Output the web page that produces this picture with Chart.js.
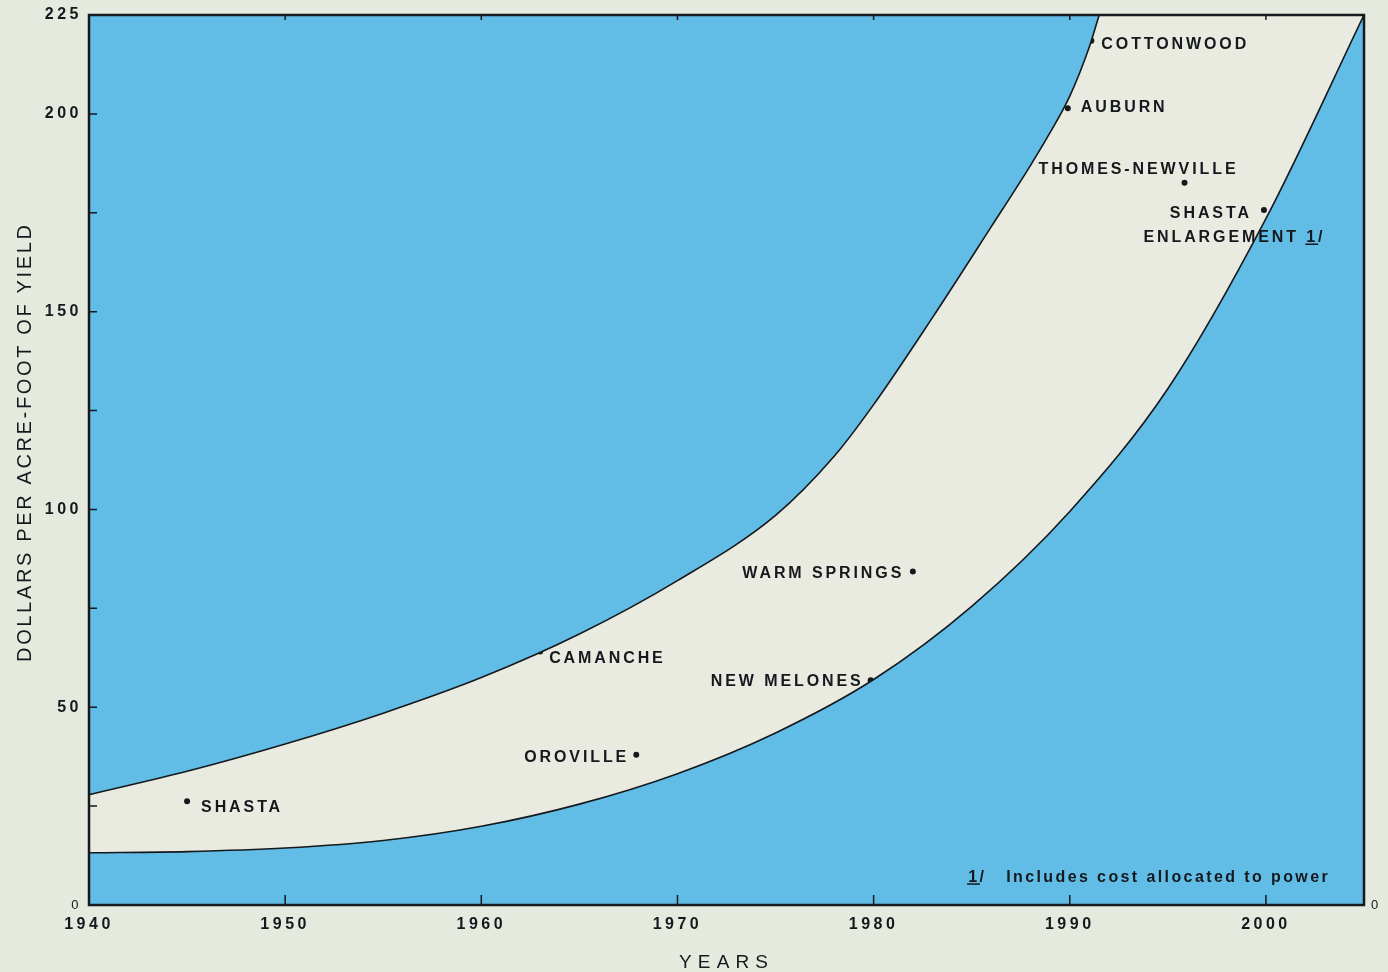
<!DOCTYPE html>
<html>
<head>
<meta charset="utf-8">
<title>Dollars per acre-foot of yield</title>
<script src="https://cdn.jsdelivr.net/npm/chart.js@4/dist/chart.umd.min.js"></script>
<style>
  html, body { margin: 0; padding: 0; background: #e6e9de; }
  #wrap { width: 1388px; height: 972px; }
  canvas { display: block; }
</style>
</head>
<body>
<div id="wrap"><canvas id="costChart" width="1388" height="972"></canvas></div>
<script>
// Upper and lower bounds of the cost band (years, dollars per acre-foot)
const upperYears = [1940, 1945, 1950, 1955, 1960, 1965, 1970, 1975, 1978, 1980, 1983, 1986, 1988, 1989, 1990, 1991, 1991.5];
const upperCost = [27.9, 33.8, 40.7, 48.5, 57.5, 68.5, 82, 98.5, 113.5, 126.5, 148.5, 171.5, 187, 195.3, 204.5, 217, 225];
const lowerYears = [1940, 1945, 1950, 1955, 1960, 1965, 1970, 1975, 1980, 1985, 1990, 1995, 2000, 2005];
const lowerCost = [13.2, 13.5, 14.4, 16.3, 19.9, 25.5, 33.2, 43.5, 57, 75.5, 99.5, 130.5, 173.5, 225];

// Individual projects
const projects = ['SHASTA', 'CAMANCHE', 'OROVILLE', 'NEW MELONES', 'WARM SPRINGS', 'COTTONWOOD', 'AUBURN', 'THOMES-NEWVILLE', 'SHASTA ENLARGEMENT'];
const projectYears = [1945.0, 1963.0, 1967.9, 1979.85, 1982.0, 1991.1, 1989.9, 1995.85, 1999.9];
const projectCosts = [26.2, 64.1, 38.0, 56.8, 84.3, 218.5, 201.4, 182.6, 175.7];

// Axis ticks
const xTickYears = [1940, 1950, 1960, 1970, 1980, 1990, 2000];
const yTickLabels = [0, 50, 100, 150, 200, 225];
const yTickMarks = [25, 50, 75, 100, 125, 150, 175, 200];

const xTitle = 'YEARS';
const yTitle = 'DOLLARS PER ACRE-FOOT OF YIELD';
const footnote = 'Includes cost allocated to power';

const BLUE = '#62bde6';
const BAND = '#e9ebe0';
const INK = '#15181c';
const FAMILY = '"Liberation Sans", Arial, Helvetica, sans-serif';

// where each project's text sits relative to its dot
const labelPlacement = {
  'SHASTA': [{ text: 'SHASTA', dx: 14, dy: 4.6, align: 'left' }],
  'CAMANCHE': [{ text: 'CAMANCHE', dx: 9, dy: 5.5, align: 'left' }],
  'OROVILLE': [{ text: 'OROVILLE', dx: -10, dy: 2, align: 'right' }],
  'NEW MELONES': [{ text: 'NEW MELONES', dx: -10, dy: 0, align: 'right' }],
  'WARM SPRINGS': [{ text: 'WARM SPRINGS', dx: -11.5, dy: 1, align: 'right' }],
  'COTTONWOOD': [{ text: 'COTTONWOOD', dx: 10, dy: 3, align: 'left' }],
  'AUBURN': [{ text: 'AUBURN', dx: 13, dy: -2.5, align: 'left' }],
  'THOMES-NEWVILLE': [{ text: 'THOMES-NEWVILLE', dx: -146, dy: -14, align: 'left' }],
  'SHASTA ENLARGEMENT': [
    { text: 'SHASTA', dx: -15, dy: 2, align: 'right' },
    { text: 'ENLARGEMENT 1/', dx: -120.5, dy: 26, align: 'left', mark: 'ENLARGEMENT ' }
  ]
};

// draws text with letter spacing, positioned by its visible width
function spacedText(ctx, text, x, y, align, spacing) {
  ctx.letterSpacing = spacing + 'px';
  ctx.textAlign = 'left';
  const w = ctx.measureText(text).width - spacing;
  let start = x;
  if (align === 'right') start = x - w;
  else if (align === 'center') start = x - w / 2;
  ctx.fillText(text, start, y);
  return start;
}

// underline under the footnote "1"
function underlineOne(ctx, startX, before, baseline, spacing) {
  ctx.letterSpacing = spacing + 'px';
  const x0 = before ? startX + ctx.measureText(before).width : startX;
  const w = ctx.measureText('1').width - spacing;
  ctx.save();
  ctx.strokeStyle = INK;
  ctx.lineWidth = 1.5;
  ctx.beginPath();
  ctx.moveTo(x0 - 1, baseline + 2.5);
  ctx.lineTo(x0 + w + 3, baseline + 2.5);
  ctx.stroke();
  ctx.restore();
}

const plotBackground = {
  id: 'plotBackground',
  beforeDraw(chart) {
    const { ctx, chartArea: a } = chart;
    ctx.letterSpacing = '3.5px';
    ctx.save();
    ctx.fillStyle = BAND;
    ctx.fillRect(a.left, a.top, a.right - a.left, a.bottom - a.top);
    ctx.restore();
  }
};

const frameAndTicks = {
  id: 'frameAndTicks',
  afterDatasetsDraw(chart) {
    const { ctx, chartArea: a, scales } = chart;
    ctx.save();
    ctx.strokeStyle = INK;
    ctx.lineWidth = 1.5;
    ctx.beginPath();
    xTickYears.slice(1).forEach(year => {
      const px = scales.x.getPixelForValue(year);
      ctx.moveTo(px, a.bottom);
      ctx.lineTo(px, a.bottom - 10);
      ctx.moveTo(px, a.top);
      ctx.lineTo(px, a.top + 5);
    });
    yTickMarks.forEach(v => {
      const py = scales.y.getPixelForValue(v);
      ctx.moveTo(a.left, py);
      ctx.lineTo(a.left + 8, py);
    });
    ctx.stroke();
    ctx.lineWidth = 2.5;
    ctx.strokeRect(a.left, a.top, a.right - a.left, a.bottom - a.top);
    ctx.restore();
  }
};

const projectLabels = {
  id: 'projectLabels',
  afterDatasetsDraw(chart) {
    const { ctx, chartArea: a } = chart;
    const meta = chart.getDatasetMeta(2);
    const capHalf = 16 * 0.716 / 2;
    ctx.save();
    ctx.fillStyle = INK;
    ctx.font = 'bold 16px ' + FAMILY;
    ctx.textBaseline = 'alphabetic';
    projects.forEach((name, i) => {
      const pt = meta.data[i];
      (labelPlacement[name] || []).forEach(line => {
        const baseline = pt.y + line.dy + capHalf;
        const start = spacedText(ctx, line.text, pt.x + line.dx, baseline, line.align, 2.9);
        if (line.mark) underlineOne(ctx, start, line.mark, baseline, 2.9);
      });
    });

    // footnote in the lower right corner
    const fy = a.bottom - 29.2 + capHalf;
    const fStart = spacedText(ctx, footnote, a.right - 36.3, fy, 'right', 2.4);
    const oneStart = spacedText(ctx, '1/', fStart - 38, fy, 'left', 2.4);
    underlineOne(ctx, oneStart, '', fy, 2.4);

    // axis titles
    ctx.font = '19px ' + FAMILY;
    spacedText(ctx, xTitle, 723.5, 961 + 19 * 0.716 / 2, 'center', 6.1);
    ctx.translate(24, 443.5);
    ctx.rotate(-Math.PI / 2);
    ctx.font = '20px ' + FAMILY;
    spacedText(ctx, yTitle, 0, 20 * 0.716 / 2, 'center', 2.65);
    ctx.restore();
  }
};

function tickFont(ctx) {
  if (ctx.tick && ctx.tick.value === 0) return { family: FAMILY, size: 13, weight: 'normal' };
  return { family: FAMILY, size: 16, weight: 'bold' };
}

const toPoints = (xs, ys) => xs.map((x, i) => ({ x, y: ys[i] }));

new Chart(document.getElementById('costChart'), {
  type: 'line',
  data: {
    datasets: [
      {
        label: 'Upper bound',
        data: toPoints(upperYears, upperCost),
        borderColor: INK,
        borderWidth: 1.6,
        backgroundColor: BLUE,
        fill: 'end',
        pointRadius: 0,
        cubicInterpolationMode: 'monotone'
      },
      {
        label: 'Lower bound',
        data: toPoints(lowerYears, lowerCost),
        borderColor: INK,
        borderWidth: 1.6,
        backgroundColor: BLUE,
        fill: 'origin',
        pointRadius: 0,
        cubicInterpolationMode: 'monotone'
      },
      {
        label: 'Projects',
        data: toPoints(projectYears, projectCosts),
        showLine: false,
        pointRadius: 3,
        pointBorderWidth: 0,
        pointBackgroundColor: INK,
        fill: false
      }
    ]
  },
  options: {
    responsive: false,
    animation: false,
    devicePixelRatio: 1,
    layout: { padding: { top: 15, right: 0, bottom: 0, left: 0 } },
    plugins: {
      legend: { display: false },
      tooltip: { enabled: false }
    },
    scales: {
      x: {
        type: 'linear',
        min: 1940,
        max: 2005,
        grid: { display: false },
        border: { display: false },
        afterBuildTicks: scale => { scale.ticks = xTickYears.map(v => ({ value: v })); },
        afterFit: scale => { scale.height = 67; },
        ticks: {
          color: INK,
          padding: 2,
          autoSkip: false,
          maxRotation: 0,
          font: tickFont,
          callback: v => String(v)
        }
      },
      y: {
        min: 0,
        max: 225,
        grid: { display: false },
        border: { display: false },
        afterBuildTicks: scale => { scale.ticks = yTickLabels.map(v => ({ value: v })); },
        afterFit: scale => { scale.width = 89; },
        ticks: {
          color: INK,
          padding: -1,
          autoSkip: false,
          font: tickFont,
          callback: v => String(v)
        }
      },
      yRight: {
        position: 'right',
        min: 0,
        max: 225,
        grid: { display: false },
        border: { display: false },
        afterBuildTicks: scale => { scale.ticks = [{ value: 0 }]; },
        afterFit: scale => { scale.width = 24; },
        ticks: {
          color: INK,
          padding: -1,
          font: tickFont,
          callback: v => String(v)
        }
      }
    }
  },
  plugins: [plotBackground, frameAndTicks, projectLabels]
});
</script>
</body>
</html>
